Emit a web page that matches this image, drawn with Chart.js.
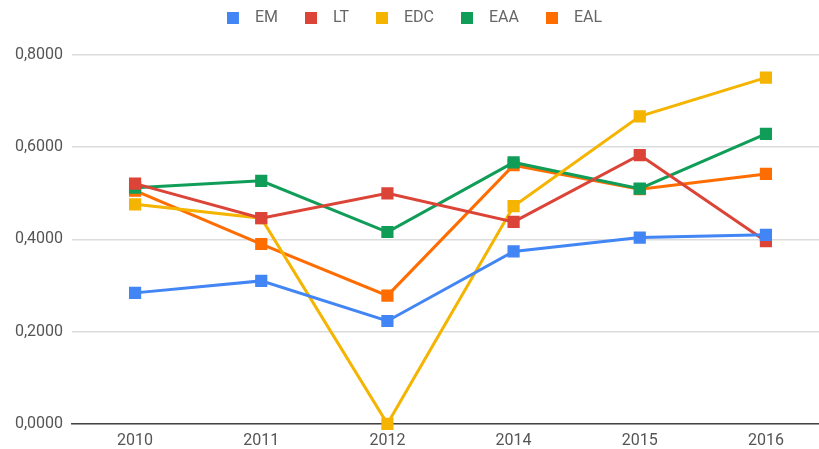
<!DOCTYPE html>
<html>
<head>
<meta charset="utf-8">
<script src="https://cdn.jsdelivr.net/npm/chart.js@4"></script>
<style>
  html, body { margin: 0; padding: 0; background: #fff; overflow: hidden; }
  canvas { display: block; }
</style>
</head>
<body>
<canvas id="lineChart" width="833" height="459"></canvas>
<script>
// years on the x axis
const years = ['2010', '2011', '2012', '2014', '2015', '2016'];

// values
const emValues  = [0.284, 0.310, 0.223, 0.374, 0.404, 0.410];
const ltValues  = [0.521, 0.446, 0.500, 0.438, 0.583, 0.396];
const edcValues = [0.476, 0.446, 0.000, 0.472, 0.667, 0.751];
const eaaValues = [0.512, 0.527, 0.416, 0.567, 0.510, 0.629];
const ealValues = [0.506, 0.390, 0.278, 0.561, 0.509, 0.542];

const seriesNames = ['EM', 'LT', 'EDC', 'EAA', 'EAL'];
const seriesColors = ['#4285F4', '#DB4437', '#F4B400', '#0F9D58', '#FF6D00'];
const allValues = [emValues, ltValues, edcValues, eaaValues, ealValues];

// small square for the legend, drawn on the left half of a wider image
// so there is more room between the square and the text
function legendSquare(color) {
    const c = document.createElement('canvas');
    c.width = 24;
    c.height = 12;
    const g = c.getContext('2d');
    g.fillStyle = color;
    g.fillRect(0, 0, 12, 12);
    return c;
}
const legendIcons = seriesColors.map(legendSquare);

function makeDataset(i) {
    return {
        label: seriesNames[i],
        data: allValues[i],
        borderColor: seriesColors[i],
        backgroundColor: seriesColors[i],
        borderWidth: 3,
        tension: 0,
        clip: false,
        pointStyle: 'rect',
        pointRadius: 6.5,
        pointHoverRadius: 6.5
    };
}

// extra room under the legend
const legendMargin = {
    id: 'legendMargin',
    beforeInit(chart) {
        const fit = chart.legend.fit;
        chart.legend.fit = function () {
            fit.bind(chart.legend)();
            this.height += 19;
        };
    }
};

const ctx = document.getElementById('lineChart').getContext('2d');

new Chart(ctx, {
    type: 'line',
    data: {
        labels: years,
        datasets: seriesNames.map((name, i) => makeDataset(i))
    },
    plugins: [legendMargin],
    options: {
        responsive: false,
        animation: false,
        // the canvas is a bit bigger than the page, the plot runs past the right edge
        layout: { autoPadding: false, padding: { top: -21, left: 4, right: 4, bottom: 0 } },
        plugins: {
            legend: {
                position: 'top',
                labels: {
                    usePointStyle: true,
                    boxWidth: 16,
                    boxHeight: 16,
                    padding: 31,
                    color: '#666',
                    font: { family: 'Roboto', size: 16 },
                    generateLabels: chart => {
                        const items = Chart.defaults.plugins.legend.labels.generateLabels(chart);
                        items.forEach((item, i) => { item.pointStyle = legendIcons[i]; });
                        return items;
                    }
                }
            },
            tooltip: { enabled: false }
        },
        scales: {
            x: {
                offset: true,
                afterFit: scale => { scale.paddingLeft = 0; scale.paddingRight = 0; },
                grid: { display: false, drawTicks: false },
                border: { color: '#444', width: 1.5 },
                ticks: {
                    color: '#555',
                    padding: 8,
                    font: { family: 'Roboto', size: 16 }
                }
            },
            y: {
                min: 0,
                max: 0.8,
                afterFit: scale => { scale.width = 68; scale.paddingBottom = 0; },
                grid: { color: '#dcdcdc', lineWidth: 1.5, drawTicks: false },
                border: { display: false },
                ticks: {
                    stepSize: 0.2,
                    color: '#555',
                    padding: 9,
                    font: { family: 'Roboto', size: 16 },
                    callback: value => value.toFixed(4).replace('.', ',')
                }
            }
        }
    }
});
</script>
</body>
</html>
